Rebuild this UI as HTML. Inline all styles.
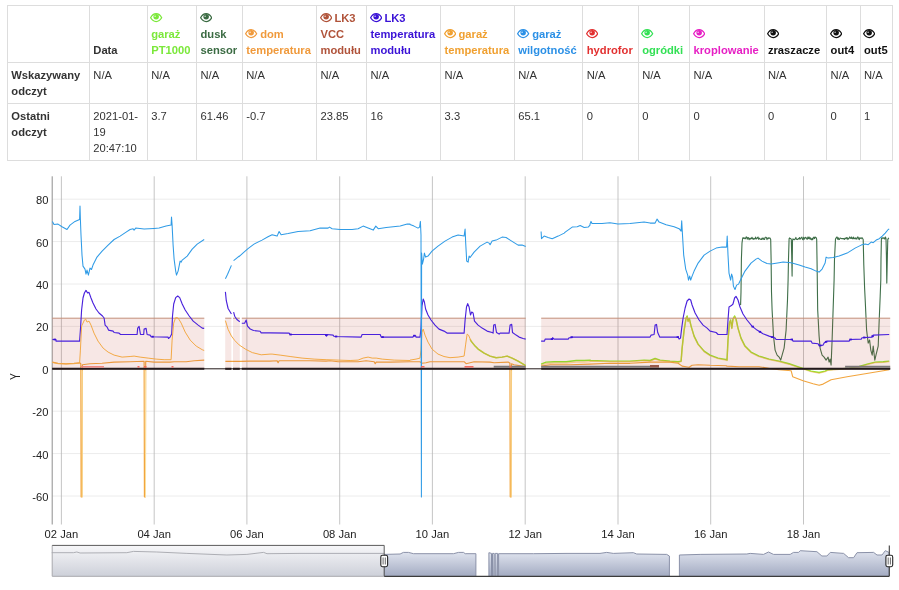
<!DOCTYPE html>
<html lang="pl"><head><meta charset="utf-8"><title>Wykres</title>
<style>
html,body{margin:0;padding:0;background:#fff;}
body{width:899px;height:590px;position:relative;overflow:hidden;font-family:"Liberation Sans",Arial,sans-serif;font-size:11.2px;line-height:16px;color:#333;}
table{position:absolute;left:7px;top:5px;border-collapse:collapse;table-layout:fixed;width:886px;border:1px solid #ddd;}
th,td{border:1px solid #ddd;padding:4px 4px 4px 3.3px;text-align:left;vertical-align:top;font-weight:normal;overflow:hidden;white-space:nowrap;}
thead th{vertical-align:bottom;font-weight:bold;}
tbody th{font-weight:bold;}
.eye{display:inline-block;vertical-align:-0.5px;margin-left:-0.9px;margin-right:-0.6px;}
#chart{position:absolute;left:0;top:0;}
#chart text{font-family:"Liberation Sans",Arial,sans-serif;fill:#222;}
</style></head><body>
<table><colgroup><col style="width:82.0px"><col style="width:57.9px"><col style="width:49.3px"><col style="width:45.8px"><col style="width:74.2px"><col style="width:50.0px"><col style="width:74.1px"><col style="width:73.7px"><col style="width:68.5px"><col style="width:55.4px"><col style="width:51.4px"><col style="width:74.4px"><col style="width:62.7px"><col style="width:33.4px"><col style="width:32.3px"></colgroup><thead><tr><th></th><th>Data</th><th style="color:#7be83a"><svg class="eye" viewBox="0 0 12 9" width="12.3" height="9.2"><path d="M0.6 4.7 C2.2 1.6 4.2 0.7 6 0.7 C7.8 0.7 9.8 1.6 11.4 4.7 C9.8 7.4 7.8 8.4 6 8.4 C4.2 8.4 2.2 7.4 0.6 4.7 Z" fill="none" stroke="currentColor" stroke-width="1.25"/><circle cx="6" cy="3.7" r="2.7" fill="currentColor"/><circle cx="5" cy="3.2" r="0.8" fill="#fff" fill-opacity="0.75"/></svg><br>garaż<br>PT1000</th><th style="color:#3b6b43"><svg class="eye" viewBox="0 0 12 9" width="12.3" height="9.2"><path d="M0.6 4.7 C2.2 1.6 4.2 0.7 6 0.7 C7.8 0.7 9.8 1.6 11.4 4.7 C9.8 7.4 7.8 8.4 6 8.4 C4.2 8.4 2.2 7.4 0.6 4.7 Z" fill="none" stroke="currentColor" stroke-width="1.25"/><circle cx="6" cy="3.7" r="2.7" fill="currentColor"/><circle cx="5" cy="3.2" r="0.8" fill="#fff" fill-opacity="0.75"/></svg><br>dusk<br>sensor</th><th style="color:#f09a3c"><svg class="eye" viewBox="0 0 12 9" width="12.3" height="9.2"><path d="M0.6 4.7 C2.2 1.6 4.2 0.7 6 0.7 C7.8 0.7 9.8 1.6 11.4 4.7 C9.8 7.4 7.8 8.4 6 8.4 C4.2 8.4 2.2 7.4 0.6 4.7 Z" fill="none" stroke="currentColor" stroke-width="1.25"/><circle cx="6" cy="3.7" r="2.7" fill="currentColor"/><circle cx="5" cy="3.2" r="0.8" fill="#fff" fill-opacity="0.75"/></svg> dom<br>temperatura</th><th style="color:#b0533a"><svg class="eye" viewBox="0 0 12 9" width="12.3" height="9.2"><path d="M0.6 4.7 C2.2 1.6 4.2 0.7 6 0.7 C7.8 0.7 9.8 1.6 11.4 4.7 C9.8 7.4 7.8 8.4 6 8.4 C4.2 8.4 2.2 7.4 0.6 4.7 Z" fill="none" stroke="currentColor" stroke-width="1.25"/><circle cx="6" cy="3.7" r="2.7" fill="currentColor"/><circle cx="5" cy="3.2" r="0.8" fill="#fff" fill-opacity="0.75"/></svg> LK3<br>VCC<br>modułu</th><th style="color:#3a12d6"><svg class="eye" viewBox="0 0 12 9" width="12.3" height="9.2"><path d="M0.6 4.7 C2.2 1.6 4.2 0.7 6 0.7 C7.8 0.7 9.8 1.6 11.4 4.7 C9.8 7.4 7.8 8.4 6 8.4 C4.2 8.4 2.2 7.4 0.6 4.7 Z" fill="none" stroke="currentColor" stroke-width="1.25"/><circle cx="6" cy="3.7" r="2.7" fill="currentColor"/><circle cx="5" cy="3.2" r="0.8" fill="#fff" fill-opacity="0.75"/></svg> LK3<br>temperatura<br>modułu</th><th style="color:#f0a030"><svg class="eye" viewBox="0 0 12 9" width="12.3" height="9.2"><path d="M0.6 4.7 C2.2 1.6 4.2 0.7 6 0.7 C7.8 0.7 9.8 1.6 11.4 4.7 C9.8 7.4 7.8 8.4 6 8.4 C4.2 8.4 2.2 7.4 0.6 4.7 Z" fill="none" stroke="currentColor" stroke-width="1.25"/><circle cx="6" cy="3.7" r="2.7" fill="currentColor"/><circle cx="5" cy="3.2" r="0.8" fill="#fff" fill-opacity="0.75"/></svg> garaż<br>temperatura</th><th style="color:#2b90e6"><svg class="eye" viewBox="0 0 12 9" width="12.3" height="9.2"><path d="M0.6 4.7 C2.2 1.6 4.2 0.7 6 0.7 C7.8 0.7 9.8 1.6 11.4 4.7 C9.8 7.4 7.8 8.4 6 8.4 C4.2 8.4 2.2 7.4 0.6 4.7 Z" fill="none" stroke="currentColor" stroke-width="1.25"/><circle cx="6" cy="3.7" r="2.7" fill="currentColor"/><circle cx="5" cy="3.2" r="0.8" fill="#fff" fill-opacity="0.75"/></svg> garaż<br>wilgotność</th><th style="color:#e23030"><svg class="eye" viewBox="0 0 12 9" width="12.3" height="9.2"><path d="M0.6 4.7 C2.2 1.6 4.2 0.7 6 0.7 C7.8 0.7 9.8 1.6 11.4 4.7 C9.8 7.4 7.8 8.4 6 8.4 C4.2 8.4 2.2 7.4 0.6 4.7 Z" fill="none" stroke="currentColor" stroke-width="1.25"/><circle cx="6" cy="3.7" r="2.7" fill="currentColor"/><circle cx="5" cy="3.2" r="0.8" fill="#fff" fill-opacity="0.75"/></svg><br>hydrofor</th><th style="color:#33e055"><svg class="eye" viewBox="0 0 12 9" width="12.3" height="9.2"><path d="M0.6 4.7 C2.2 1.6 4.2 0.7 6 0.7 C7.8 0.7 9.8 1.6 11.4 4.7 C9.8 7.4 7.8 8.4 6 8.4 C4.2 8.4 2.2 7.4 0.6 4.7 Z" fill="none" stroke="currentColor" stroke-width="1.25"/><circle cx="6" cy="3.7" r="2.7" fill="currentColor"/><circle cx="5" cy="3.2" r="0.8" fill="#fff" fill-opacity="0.75"/></svg><br>ogródki</th><th style="color:#e61fc4"><svg class="eye" viewBox="0 0 12 9" width="12.3" height="9.2"><path d="M0.6 4.7 C2.2 1.6 4.2 0.7 6 0.7 C7.8 0.7 9.8 1.6 11.4 4.7 C9.8 7.4 7.8 8.4 6 8.4 C4.2 8.4 2.2 7.4 0.6 4.7 Z" fill="none" stroke="currentColor" stroke-width="1.25"/><circle cx="6" cy="3.7" r="2.7" fill="currentColor"/><circle cx="5" cy="3.2" r="0.8" fill="#fff" fill-opacity="0.75"/></svg><br>kroplowanie</th><th style="color:#111"><svg class="eye" viewBox="0 0 12 9" width="12.3" height="9.2"><path d="M0.6 4.7 C2.2 1.6 4.2 0.7 6 0.7 C7.8 0.7 9.8 1.6 11.4 4.7 C9.8 7.4 7.8 8.4 6 8.4 C4.2 8.4 2.2 7.4 0.6 4.7 Z" fill="none" stroke="currentColor" stroke-width="1.25"/><circle cx="6" cy="3.7" r="2.7" fill="currentColor"/><circle cx="5" cy="3.2" r="0.8" fill="#fff" fill-opacity="0.75"/></svg><br>zraszacze</th><th style="color:#111"><svg class="eye" viewBox="0 0 12 9" width="12.3" height="9.2"><path d="M0.6 4.7 C2.2 1.6 4.2 0.7 6 0.7 C7.8 0.7 9.8 1.6 11.4 4.7 C9.8 7.4 7.8 8.4 6 8.4 C4.2 8.4 2.2 7.4 0.6 4.7 Z" fill="none" stroke="currentColor" stroke-width="1.25"/><circle cx="6" cy="3.7" r="2.7" fill="currentColor"/><circle cx="5" cy="3.2" r="0.8" fill="#fff" fill-opacity="0.75"/></svg><br>out4</th><th style="color:#111"><svg class="eye" viewBox="0 0 12 9" width="12.3" height="9.2"><path d="M0.6 4.7 C2.2 1.6 4.2 0.7 6 0.7 C7.8 0.7 9.8 1.6 11.4 4.7 C9.8 7.4 7.8 8.4 6 8.4 C4.2 8.4 2.2 7.4 0.6 4.7 Z" fill="none" stroke="currentColor" stroke-width="1.25"/><circle cx="6" cy="3.7" r="2.7" fill="currentColor"/><circle cx="5" cy="3.2" r="0.8" fill="#fff" fill-opacity="0.75"/></svg><br>out5</th></tr></thead><tbody><tr class="r2"><th>Wskazywany<br>odczyt</th><td>N/A</td><td>N/A</td><td>N/A</td><td>N/A</td><td>N/A</td><td>N/A</td><td>N/A</td><td>N/A</td><td>N/A</td><td>N/A</td><td>N/A</td><td>N/A</td><td>N/A</td><td>N/A</td></tr><tr class="r3"><th>Ostatni<br>odczyt</th><td>2021-01-<br>19<br>20:47:10</td><td>3.7</td><td>61.46</td><td>-0.7</td><td>23.85</td><td>16</td><td>3.3</td><td>65.1</td><td>0</td><td>0</td><td>0</td><td>0</td><td>0</td><td>1</td></tr></tbody></table>
<svg id="chart" width="899" height="590" viewBox="0 0 899 590">
<defs><linearGradient id="gsel" x1="0" y1="0" x2="0" y2="1"><stop offset="0" stop-color="#dfe3ee"/><stop offset="1" stop-color="#a3abc2"/></linearGradient><linearGradient id="gbg" x1="0" y1="0" x2="0" y2="1"><stop offset="0" stop-color="#f7f7f9"/><stop offset="1" stop-color="#cdd0d9"/></linearGradient></defs>
<line x1="52.2" x2="890.2" y1="199.2" y2="199.2" stroke="#ececec" stroke-width="1"/>
<line x1="52.2" x2="890.2" y1="241.6" y2="241.6" stroke="#ececec" stroke-width="1"/>
<line x1="52.2" x2="890.2" y1="284.0" y2="284.0" stroke="#ececec" stroke-width="1"/>
<line x1="52.2" x2="890.2" y1="326.4" y2="326.4" stroke="#ececec" stroke-width="1"/>
<line x1="52.2" x2="890.2" y1="368.8" y2="368.8" stroke="#ececec" stroke-width="1"/>
<line x1="52.2" x2="890.2" y1="411.2" y2="411.2" stroke="#ececec" stroke-width="1"/>
<line x1="52.2" x2="890.2" y1="453.6" y2="453.6" stroke="#ececec" stroke-width="1"/>
<line x1="52.2" x2="890.2" y1="496.0" y2="496.0" stroke="#ececec" stroke-width="1"/>
<line x1="61.4" x2="61.4" y1="176.3" y2="524.5" stroke="#b6b6b6" stroke-width="0.8"/>
<line x1="154.2" x2="154.2" y1="176.3" y2="524.5" stroke="#b6b6b6" stroke-width="0.8"/>
<line x1="246.9" x2="246.9" y1="176.3" y2="524.5" stroke="#b6b6b6" stroke-width="0.8"/>
<line x1="339.7" x2="339.7" y1="176.3" y2="524.5" stroke="#b6b6b6" stroke-width="0.8"/>
<line x1="432.4" x2="432.4" y1="176.3" y2="524.5" stroke="#b6b6b6" stroke-width="0.8"/>
<line x1="525.2" x2="525.2" y1="176.3" y2="524.5" stroke="#b6b6b6" stroke-width="0.8"/>
<line x1="618.0" x2="618.0" y1="176.3" y2="524.5" stroke="#b6b6b6" stroke-width="0.8"/>
<line x1="710.7" x2="710.7" y1="176.3" y2="524.5" stroke="#b6b6b6" stroke-width="0.8"/>
<line x1="803.5" x2="803.5" y1="176.3" y2="524.5" stroke="#b6b6b6" stroke-width="0.8"/>
<line x1="52.2" x2="52.2" y1="176.3" y2="524.5" stroke="#8f8f8f" stroke-width="1"/>
<path d="M470.1 339.1 L471.1 341.1 L475.1 346.1 L478.1 349.1 L484.1 353.1 L490.1 356.1 L496.1 357.7 L502.1 357.1 L507.1 356.1 L512.1 358.1 L518.1 361.1 L523.1 364.1 L525.7 365.7 M541.1 364.1 L546.1 362.1 L554.2 361.7 L566.2 361.7 L576.2 360.5 L584.2 360.5 L590.0 360.1 L590.0 360.5 L610.0 361.1 L630.0 361.1 L644.1 360.1 L650.1 360.5 L655.1 358.5 L660.1 360.1 L670.1 361.1 L678.1 361.7 L681.1 361.1 L682.1 348.1 L684.1 330.1 L686.1 318.0 L687.1 316.0 L688.1 321.1 L689.3 318.4 L691.1 326.1 L694.1 336.1 L698.1 344.1 L704.1 351.1 L710.1 355.1 L718.1 358.1 L727.1 359.7 L727.0 360.1 L728.0 340.1 L729.4 323.1 L730.6 320.0 L731.8 328.1 L733.0 319.0 L734.6 316.0 L736.0 319.0 L738.0 328.1 L741.0 338.1 L745.0 346.1 L751.0 352.1 L759.0 356.1 L769.1 359.1 L779.1 361.1 L789.1 363.7 L799.1 367.1 L805.1 369.1 L811.1 371.1 L819.1 372.5 L825.1 371.1 L828.1 369.7 L839.1 368.9 L849.1 368.1 L859.2 366.5 L867.2 364.1 L875.2 362.1 L883.2 361.7 L889.2 361.1" fill="none" stroke="#8cec2c" stroke-width="1.45" stroke-linejoin="round" />
<path d="M740.6 305.0 L741.0 292.0 L741.4 259.1 L742.0 243.1 L742.6 238.7 L743.0 237.6 L743.6 238.4 L744.2 237.9 L744.8 238.6 L745.4 238.7 L746.0 237.1 L746.6 236.9 L747.2 239.2 L747.8 237.6 L748.4 237.6 L749.0 239.7 L749.6 238.2 L750.2 239.2 L750.8 238.2 L751.4 238.7 L752.0 237.3 L752.6 238.7 L753.2 239.3 L753.8 238.4 L754.4 239.0 L755.0 238.8 L755.6 237.1 L756.2 239.0 L756.8 238.6 L757.4 237.7 L758.0 237.0 L758.6 239.3 L759.2 238.2 L759.8 238.9 L760.4 239.4 L761.0 238.9 L761.6 239.5 L762.2 238.0 L762.8 239.1 L763.4 238.1 L764.0 239.5 L764.6 239.4 L765.2 237.2 L765.8 237.3 L766.4 237.5 L767.0 239.6 L767.6 238.1 L768.2 238.7 L768.8 237.7 L769.4 238.3 L770.0 238.0 L770.7 239.5 L771.1 259.1 L771.5 292.0 L772.1 310.0 L773.5 336.1 L775.1 350.1 L777.1 355.1 L779.1 357.1 L780.7 360.1 L782.1 355.1 L784.1 348.1 L786.1 330.1 L787.5 300.0 L788.1 280.0 L788.5 259.1 L789.1 238.7 L789.5 237.9 L790.1 238.5 L790.7 238.5 L791.3 239.4 L791.7 255.1 L792.1 276.1 L792.5 241.1 L792.9 238.8 L793.5 239.5 L794.1 239.3 L794.7 239.7 L795.3 238.8 L795.9 237.4 L796.5 239.3 L797.1 239.6 L797.7 239.4 L798.3 238.5 L798.9 238.9 L799.5 237.5 L800.1 239.2 L800.7 238.5 L801.3 237.7 L801.9 237.1 L802.5 239.3 L803.1 239.7 L803.7 237.2 L804.3 239.1 L804.9 238.1 L805.5 237.3 L806.1 237.7 L806.7 239.1 L807.3 239.3 L807.9 237.0 L808.5 238.6 L809.1 237.0 L809.7 238.9 L810.3 237.8 L810.9 239.4 L811.5 239.7 L812.1 238.3 L812.7 239.7 L813.3 237.8 L813.9 237.1 L814.5 238.6 L815.1 237.0 L815.7 237.4 L816.3 238.0 L816.7 239.5 L817.1 265.1 L817.5 296.0 L817.7 310.0 L819.1 336.1 L820.1 348.1 L822.1 355.1 L824.1 357.1 L826.1 360.1 L828.1 357.1 L829.1 362.1 L830.1 359.1 L831.1 365.1 L832.1 340.1 L833.1 310.0 L834.1 280.0 L834.5 259.1 L835.5 238.7 L835.9 238.6 L836.5 237.3 L837.1 237.0 L837.7 239.3 L838.3 237.8 L838.9 239.6 L839.5 239.4 L840.1 238.0 L840.7 238.2 L841.3 238.4 L841.9 238.7 L842.5 238.6 L843.1 238.5 L843.7 238.6 L844.3 239.5 L844.9 238.3 L845.5 238.1 L846.1 238.9 L846.7 237.6 L847.3 237.7 L847.9 239.6 L848.5 238.4 L849.1 238.4 L849.7 236.9 L850.3 238.1 L850.9 238.5 L851.5 237.0 L852.1 238.6 L852.7 238.7 L853.3 237.1 L853.9 238.7 L854.5 238.2 L855.1 238.8 L855.7 237.9 L856.3 238.9 L856.9 239.0 L857.5 237.0 L858.1 237.1 L858.7 238.8 L859.3 239.6 L859.9 237.6 L860.5 238.2 L861.1 238.6 L861.7 237.8 L862.3 237.9 L863.2 239.5 L863.8 265.1 L864.6 288.0 L865.2 300.0 L866.6 330.1 L868.2 343.1 L869.6 340.1 L870.8 350.1 L872.2 355.1 L873.2 346.1 L874.8 360.1 L876.2 354.1 L878.2 346.1 L879.2 320.0 L880.2 296.0 L880.8 280.0 L881.0 259.1 L881.4 238.7 L881.8 237.8 L882.4 237.9 L883.0 238.6 L883.6 237.7 L884.2 238.0 L884.8 239.1 L885.4 237.0 L886.0 238.5 L886.4 255.1 L886.8 283.1 L887.4 255.1 L887.8 239.1 L888.2 239.0 L888.8 237.8" fill="none" stroke="#3f6f49" stroke-width="1.1" stroke-linejoin="round" />
<path d="M52.4 362.1 L58.0 363.3 L66.0 363.7 L74.0 363.3 L79.6 362.7 L80.8 363.7 L81.1 496.8 L82.1 496.8 L82.4 364.7 L90.0 363.7 L102.1 363.3 L114.1 362.1 L130.1 361.7 L144.1 361.3 L144.1 361.3 L144.4 496.8 L145.4 496.8 L145.7 361.3 L154.1 362.1 L170.1 362.1 L174.1 361.7 L186.2 361.7 L194.2 360.7 L204.2 360.1 M225.4 361.3 L230.0 361.3 L240.0 361.3 L250.0 361.1 L270.0 361.1 L277.1 360.7 L278.1 362.7 L279.1 360.7 L290.1 360.7 L310.1 360.7 L326.1 361.1 L330.1 360.7 L338.1 361.7 L358.1 361.7 L366.1 360.7 L374.2 361.7 L375.2 363.7 L376.2 362.1 L390.2 362.1 L410.0 361.7 L410.0 361.7 L420.0 361.7 L422.0 363.3 L426.0 362.7 L430.0 361.7 L450.0 361.7 L464.1 361.7 L466.1 363.7 L470.1 362.7 L474.1 361.7 L490.1 362.1 L494.1 362.7 L508.1 362.1 L510.1 363.3 L509.9 363.3 L510.2 496.8 L511.2 496.8 L511.5 363.7 L514.1 364.7 L522.1 366.1 L525.7 366.7 M541.1 366.1 L550.2 364.7 L570.2 364.7 L590.0 364.1 L590.0 364.1 L610.0 363.3 L630.0 363.3 L650.1 362.1 L670.1 362.1 L678.1 363.3 L682.1 366.1 L686.1 366.7 L689.1 367.3 L692.1 365.3 L698.1 364.7 L710.1 365.3 L726.1 365.7 L727.0 366.1 L739.0 366.7 L759.0 366.7 L771.1 368.7 L779.1 369.7 L791.1 370.7 L792.7 376.7 L803.1 380.7 L813.1 383.7 L819.1 385.3 L823.1 384.1 L831.1 379.7 L847.1 376.7 L859.2 374.7 L871.2 372.7 L883.2 370.7 L889.2 369.7" fill="none" stroke="#f2a53e" stroke-width="1.15" stroke-linejoin="round" />
<rect x="52.2" y="318.2" width="152.1" height="50.6" fill="#c04a3a" fill-opacity="0.135"/>
<line x1="52.2" x2="204.3" y1="318.2" y2="318.2" stroke="#c38e79" stroke-width="1"/>
<rect x="225.2" y="318.2" width="6.2" height="50.6" fill="#c04a3a" fill-opacity="0.135"/>
<line x1="225.2" x2="231.4" y1="318.2" y2="318.2" stroke="#c38e79" stroke-width="1"/>
<rect x="233" y="318.2" width="6.8" height="50.6" fill="#c04a3a" fill-opacity="0.135"/>
<line x1="233" x2="239.8" y1="318.2" y2="318.2" stroke="#c38e79" stroke-width="1"/>
<rect x="241.8" y="318.2" width="283.9" height="50.6" fill="#c04a3a" fill-opacity="0.135"/>
<line x1="241.8" x2="525.7" y1="318.2" y2="318.2" stroke="#c38e79" stroke-width="1"/>
<rect x="541.2" y="318.2" width="349.0" height="50.6" fill="#c04a3a" fill-opacity="0.135"/>
<line x1="541.2" x2="890.2" y1="318.2" y2="318.2" stroke="#c38e79" stroke-width="1"/>
<path d="M52.4 339.5 L56.0 339.5 L56.0 341.1 L79.6 341.1 L80.4 330.1 L81.6 310.0 L83.0 298.0 L84.4 293.0 L86.0 290.4 L87.6 293.0 L89.0 292.4 L91.0 298.0 L93.0 303.0 L96.0 309.0 L99.0 313.0 L102.5 316.0 L104.1 318.0 L105.1 325.1 L107.1 327.1 L108.5 330.1 L113.1 331.1 L114.1 332.5 L119.1 333.1 L120.5 334.5 L137.1 334.5 L137.7 328.1 L139.1 326.4 L140.5 334.5 L143.7 334.5 L144.1 329.1 L146.1 328.4 L147.1 334.5 L150.1 335.1 L151.1 336.7 L168.1 337.1 L168.5 338.5 L170.1 337.1 L171.7 334.1 L172.5 316.0 L173.7 304.0 L175.7 297.6 L177.7 296.0 L179.7 297.6 L182.2 304.0 L185.2 310.0 L189.2 316.0 L193.2 321.1 L198.2 325.1 L202.2 328.1 L204.2 328.4 M225.4 291.9 L226.3 300.7 L228.1 308.5 L231.4 314.0 M233.6 312.2 L234.7 316.2 L236.9 319.5 L239.8 321.7 M241.8 323.2 L244.6 323.2 L246.2 320.1 L247.5 326.1 L250.2 329.0 L253.5 330.5 L260.1 331.2 L261.2 332.9 L270.0 332.9 L289.1 333.1 L290.1 334.5 L326.1 334.5 L326.5 336.1 L327.1 334.5 L333.1 335.1 L334.1 336.5 L361.1 337.1 L362.1 334.5 L380.2 334.5 L381.2 337.1 L410.0 337.1 L410.0 337.1 L413.0 337.1 L413.6 335.7 L415.6 335.7 L416.0 337.1 L420.0 337.1 L421.0 328.1 L422.0 306.0 L423.2 299.0 L424.4 302.0 L425.6 309.0 L428.0 315.0 L431.0 320.0 L435.0 325.1 L439.0 329.1 L444.0 331.1 L447.0 333.1 L464.1 333.1 L465.1 320.0 L466.5 307.0 L467.7 303.6 L469.1 307.0 L470.5 315.0 L471.7 312.0 L473.1 313.0 L474.5 321.1 L478.1 325.1 L482.1 328.1 L487.1 331.1 L492.1 332.5 L493.1 333.1 L493.7 325.1 L495.1 324.4 L496.5 332.5 L499.1 334.1 L500.1 333.1 L509.1 333.1 L510.1 325.1 L511.7 324.4 L512.5 332.5 L516.1 335.1 L519.1 337.1 L523.1 338.5 L525.7 339.1 M541.1 341.1 L544.5 341.1 L545.1 339.1 L552.2 339.1 L552.6 337.7 L554.2 339.1 L568.2 339.1 L569.2 337.7 L571.2 337.7 L571.8 337.1 L590.0 337.1 L590.0 337.1 L650.1 337.1 L651.1 335.1 L654.1 334.5 L655.1 325.1 L656.5 324.4 L657.7 332.5 L659.7 337.1 L678.1 337.1 L679.1 339.1 L680.5 338.1 L681.7 328.1 L683.1 318.0 L685.1 308.0 L687.1 301.0 L689.1 299.0 L690.7 300.0 L692.1 305.0 L695.1 313.0 L699.1 320.0 L703.1 325.1 L707.1 328.1 L710.1 331.1 L716.1 332.5 L718.1 334.5 L727.1 334.5 L727.0 334.5 L728.0 320.0 L729.0 307.0 L731.4 305.6 L733.0 304.0 L734.6 298.0 L736.0 296.4 L738.0 300.0 L740.0 307.0 L743.0 314.0 L747.0 320.0 L752.0 326.1 L757.0 330.1 L763.0 333.7 L769.1 336.1 L775.1 338.1 L776.1 339.5 L792.1 339.5 L793.1 341.1 L811.1 341.1 L812.1 343.1 L818.1 343.7 L819.1 345.7 L823.1 345.1 L824.1 343.1 L827.1 341.1 L849.1 341.1 L850.1 339.5 L861.2 339.1 L862.2 337.7 L872.2 337.1 L873.2 335.1 L889.2 334.5" fill="none" stroke="#4a22dc" stroke-width="1.15" stroke-linejoin="round" />
<path d="M52.4 362.5 L58.0 363.7 L66.0 364.1 L74.0 363.7 L79.6 363.1 L80.4 350.1 L81.6 326.1 L83.0 323.1 L84.4 320.0 L85.6 319.0 L87.0 322.1 L89.0 321.1 L91.0 325.1 L94.0 333.1 L98.0 341.1 L103.1 348.1 L108.1 352.1 L114.1 355.1 L122.1 357.1 L130.1 356.5 L134.1 356.1 L140.1 357.1 L148.1 358.1 L156.1 359.1 L164.1 359.7 L171.1 359.7 L172.1 340.1 L173.7 323.1 L175.7 317.6 L178.1 318.0 L181.2 323.1 L185.2 332.1 L190.2 340.1 L196.2 346.1 L202.2 349.7 L204.2 350.5 M225.4 320.6 L228.1 329.4 L231.4 336.0 L234.7 340.4 L239.1 344.9 L245.7 349.3 L252.3 352.6 L261.2 354.8 L270.0 354.1 L272.1 354.1 L280.1 355.1 L290.1 356.5 L302.1 358.1 L314.1 359.1 L326.1 359.7 L338.1 360.1 L350.1 360.5 L358.1 360.1 L363.1 358.1 L368.1 357.1 L372.2 358.1 L376.2 358.1 L382.2 359.1 L394.2 360.1 L410.0 360.5 L410.0 360.1 L416.0 359.1 L420.0 358.1 L421.0 350.1 L422.0 332.1 L423.2 329.1 L425.0 335.1 L428.0 342.1 L432.0 349.1 L438.0 354.1 L444.0 356.5 L450.0 357.7 L458.1 357.1 L464.1 356.1 L465.7 344.1 L467.1 334.1 L468.5 335.1 L471.1 341.1" fill="none" stroke="#f3a945" stroke-width="1.0" stroke-linejoin="round" />
<path d="M471.1 341.1 L475.1 346.1 L478.1 349.1 L484.1 353.1 L490.1 356.1 L496.1 357.7 L502.1 357.1 L507.1 356.1 L512.1 358.1 L518.1 361.1 L523.1 364.1 L525.7 365.7 M541.1 365.1 L546.1 363.7 L554.2 363.1 L566.2 363.1 L576.2 362.1 L584.2 362.1 L590.0 361.7 L590.0 361.1 L610.0 361.7 L630.0 361.7 L644.1 360.7 L650.1 361.1 L655.1 359.1 L660.1 360.7 L670.1 361.7 L678.1 362.3 L681.1 361.7 L682.1 348.7 L684.1 330.7 L686.1 318.6 L687.1 316.6 L688.1 321.7 L689.3 319.0 L691.1 326.7 L694.1 336.7 L698.1 344.7 L704.1 351.7 L710.1 355.7 L718.1 358.7 L727.1 360.3 L727.0 360.7 L728.0 340.7 L729.4 323.7 L730.6 320.6 L731.8 328.7 L733.0 319.6 L734.6 316.6 L736.0 319.6 L738.0 328.7 L741.0 338.7 L745.0 346.7 L751.0 352.7 L759.0 356.7 L769.1 359.7 L779.1 361.7 L789.1 364.3 L799.1 367.7 L805.1 369.7 L811.1 371.7 L819.1 373.1 L825.1 371.7 L828.1 370.3 L839.1 369.5 L849.1 368.7 L859.2 367.1 L867.2 364.7 L875.2 362.7 L883.2 362.3 L889.2 361.7" fill="none" stroke="#f2a53e" stroke-width="1.2" stroke-linejoin="round" stroke-opacity="0.5"/>
<path d="M52.4 221.4 L54.0 224.4 L58.0 224.1 L62.0 226.7 L67.0 229.5 L70.0 225.1 L75.0 221.4 L79.6 219.4 L80.0 206.0 L80.4 219.4 L81.0 235.1 L82.0 255.1 L83.0 266.1 L85.0 269.1 L86.0 274.1 L87.0 270.1 L88.4 275.1 L90.0 268.1 L91.5 269.5 L93.0 265.1 L97.0 257.1 L102.1 251.1 L108.1 245.1 L114.1 239.5 L120.1 236.1 L126.1 232.1 L130.1 229.5 L133.1 228.7 L134.1 230.1 L135.7 228.1 L144.1 229.1 L154.1 228.5 L159.1 228.1 L166.1 226.1 L171.1 225.1 L171.5 217.1 L172.1 225.1 L173.1 245.1 L174.1 259.1 L175.7 271.1 L176.5 275.1 L178.1 271.1 L180.1 261.1 L181.2 262.1 L182.2 260.1 L187.2 256.1 L192.2 249.1 L197.2 244.1 L204.2 239.5 M225.4 278.7 L227.6 274.3 L231.4 265.4 M233.6 260.6 L235.8 258.8 L239.1 256.2 L239.0 256.7 L244.0 252.1 L248.0 248.7 L254.0 244.1 L262.0 240.1 L268.0 236.7 L272.1 234.7 L277.1 236.1 L279.1 231.5 L281.1 234.7 L288.1 233.5 L298.1 231.5 L310.1 230.7 L320.1 228.1 L328.1 228.1 L329.5 227.1 L332.1 228.7 L340.1 229.5 L352.1 229.5 L358.1 228.7 L363.1 226.1 L368.1 228.1 L373.2 230.1 L375.8 226.1 L378.2 228.7 L386.2 227.5 L400.2 226.1 L407.2 224.1 L410.0 224.1 L410.0 224.4 L414.0 226.1 L418.0 228.1 L419.6 227.1 L420.4 221.4 L421.0 235.1 L421.4 497.0 L421.6 253.1 L422.4 264.1 L423.6 259.1 L424.4 253.1 L425.6 257.1 L428.0 256.1 L432.0 251.1 L438.0 246.1 L445.0 241.1 L452.1 237.1 L458.1 235.1 L464.1 236.1 L465.1 229.1 L465.7 243.1 L466.7 261.1 L468.1 262.1 L469.1 256.1 L470.1 257.5 L474.1 252.1 L480.1 246.1 L487.1 242.1 L489.1 243.1 L490.1 244.7 L492.1 241.1 L496.1 240.1 L502.1 237.1 L506.1 237.5 L510.1 240.1 L518.1 245.1 L522.1 245.1 L525.7 246.5 M541.1 231.5 L541.5 238.7 L544.1 236.1 L548.1 237.5 L552.2 238.7 L558.2 236.1 L564.2 233.1 L565.2 232.1 L572.2 227.1 L577.2 226.7 L580.2 225.5 L584.2 227.5 L588.2 227.1 L590.0 225.1 L590.0 224.1 L591.0 221.4 L592.0 223.4 L602.0 223.4 L610.0 222.7 L618.0 224.1 L630.0 223.4 L644.1 222.1 L650.1 223.1 L655.1 223.1 L657.1 219.1 L659.1 222.1 L666.1 224.7 L674.1 226.7 L679.1 228.7 L681.1 231.1 L681.7 220.7 L682.5 235.1 L683.7 255.1 L685.7 269.1 L687.7 275.1 L688.5 280.1 L689.7 276.1 L690.7 280.1 L692.1 276.1 L694.1 271.1 L698.1 263.1 L704.1 255.1 L710.1 251.1 L716.1 248.1 L722.1 247.1 L726.5 247.1 L726.6 246.7 L727.2 236.1 L728.0 255.1 L729.0 273.1 L730.6 280.1 L731.6 274.1 L732.6 277.1 L733.4 286.1 L735.0 289.5 L736.6 285.1 L738.6 284.1 L741.0 279.1 L745.0 271.1 L751.0 263.1 L756.0 259.1 L758.0 258.1 L762.0 261.1 L767.0 263.5 L771.1 264.1 L779.1 262.7 L783.1 262.1 L791.1 262.7 L799.1 265.1 L805.1 267.1 L811.1 268.7 L816.1 271.1 L819.1 272.1 L822.1 269.1 L825.1 263.1 L826.1 257.1 L828.1 258.1 L833.1 257.5 L839.1 256.1 L847.1 253.1 L855.1 248.1 L861.2 245.1 L865.2 244.1 L868.2 244.7 L871.2 242.1 L873.2 242.7 L876.2 240.1 L879.2 238.7 L882.2 236.1 L885.2 233.1 L888.2 229.5 L889.2 229.1" fill="none" stroke="#2f9be6" stroke-width="1.05" stroke-linejoin="round" />
<rect x="53.5" y="338.6" width="2.4" height="1.8" fill="#3a12d6"/>
<rect x="151.4" y="335.8" width="2.4" height="1.8" fill="#3a12d6"/>
<rect x="289.4" y="333.6" width="2.4" height="1.8" fill="#3a12d6"/>
<rect x="325.1" y="334.3" width="2.4" height="1.8" fill="#3a12d6"/>
<rect x="334.9" y="335.6" width="2.4" height="1.8" fill="#3a12d6"/>
<rect x="381.4" y="336.2" width="2.4" height="1.8" fill="#3a12d6"/>
<rect x="413.2" y="334.8" width="2.4" height="1.8" fill="#3a12d6"/>
<rect x="550.8" y="338.2" width="2.4" height="1.8" fill="#3a12d6"/>
<rect x="570.4" y="336.3" width="2.4" height="1.8" fill="#3a12d6"/>
<rect x="676.6" y="336.2" width="2.4" height="1.8" fill="#3a12d6"/>
<rect x="751.5" y="325.7" width="2.4" height="1.8" fill="#3a12d6"/>
<rect x="758.8" y="330.9" width="2.4" height="1.8" fill="#3a12d6"/>
<rect x="771.1" y="336.2" width="2.4" height="1.8" fill="#3a12d6"/>
<rect x="790.6" y="338.6" width="2.4" height="1.8" fill="#3a12d6"/>
<rect x="819.0" y="344.6" width="2.4" height="1.8" fill="#3a12d6"/>
<rect x="824.9" y="340.9" width="2.4" height="1.8" fill="#3a12d6"/>
<rect x="849.4" y="338.6" width="2.4" height="1.8" fill="#3a12d6"/>
<rect x="863.1" y="336.6" width="2.4" height="1.8" fill="#3a12d6"/>
<rect x="871.4" y="335.3" width="2.4" height="1.8" fill="#3a12d6"/>
<line x1="82.2" x2="82.2" y1="370.3" y2="497.2" stroke="#fadf9e" stroke-width="1"/>
<line x1="145.5" x2="145.5" y1="370.3" y2="497.2" stroke="#fadf9e" stroke-width="1"/>
<line x1="511.2" x2="511.2" y1="370.3" y2="497.2" stroke="#fadf9e" stroke-width="1"/>
<line x1="52.2" x2="890.2" y1="368.8" y2="368.8" stroke="#2a2020" stroke-width="1"/>
<line x1="52.2" x2="204.3" y1="368.8" y2="368.8" stroke="#241a1c" stroke-width="2.1"/>
<line x1="225.2" x2="231.4" y1="368.8" y2="368.8" stroke="#241a1c" stroke-width="2.1"/>
<line x1="233" x2="239.8" y1="368.8" y2="368.8" stroke="#241a1c" stroke-width="2.1"/>
<line x1="241.8" x2="525.7" y1="368.8" y2="368.8" stroke="#241a1c" stroke-width="2.1"/>
<line x1="541.2" x2="890.2" y1="368.8" y2="368.8" stroke="#241a1c" stroke-width="2.1"/>
<line x1="493.7" x2="525.7" y1="366.8" y2="366.8" stroke="#7d7779" stroke-width="2"/>
<line x1="541.2" x2="659" y1="366.8" y2="366.8" stroke="#7d7779" stroke-width="2"/>
<line x1="845.1" x2="890.2" y1="366.8" y2="366.8" stroke="#7d7779" stroke-width="2"/>
<line x1="650" x2="659" y1="366.2" y2="366.2" stroke="#9a5a4a" stroke-width="2.4"/>
<line x1="81" x2="104" y1="366.8" y2="366.8" stroke="#f08a84" stroke-width="1.6"/>
<line x1="137.5" x2="139.5" y1="366.8" y2="366.8" stroke="#ee6a60" stroke-width="1.6"/>
<line x1="144" x2="146.5" y1="366.8" y2="366.8" stroke="#ee6a60" stroke-width="1.6"/>
<line x1="171.5" x2="173.5" y1="366.8" y2="366.8" stroke="#ee6a60" stroke-width="1.6"/>
<line x1="421" x2="424.5" y1="366.8" y2="366.8" stroke="#ee6a60" stroke-width="1.6"/>
<line x1="464.5" x2="473.5" y1="366.8" y2="366.8" stroke="#ee6a60" stroke-width="1.6"/>
<line x1="509.5" x2="511.5" y1="366.8" y2="366.8" stroke="#ee6a60" stroke-width="1.6"/>
<text x="48.5" y="204.2" font-size="11.2" text-anchor="end">80</text>
<text x="48.5" y="246.6" font-size="11.2" text-anchor="end">60</text>
<text x="48.5" y="289.0" font-size="11.2" text-anchor="end">40</text>
<text x="48.5" y="331.4" font-size="11.2" text-anchor="end">20</text>
<text x="48.5" y="373.8" font-size="11.2" text-anchor="end">0</text>
<text x="48.5" y="416.2" font-size="11.2" text-anchor="end">-20</text>
<text x="48.5" y="458.6" font-size="11.2" text-anchor="end">-40</text>
<text x="48.5" y="501.0" font-size="11.2" text-anchor="end">-60</text>
<text x="61.4" y="538" font-size="11.2" text-anchor="middle">02 Jan</text>
<text x="154.2" y="538" font-size="11.2" text-anchor="middle">04 Jan</text>
<text x="246.9" y="538" font-size="11.2" text-anchor="middle">06 Jan</text>
<text x="339.7" y="538" font-size="11.2" text-anchor="middle">08 Jan</text>
<text x="432.4" y="538" font-size="11.2" text-anchor="middle">10 Jan</text>
<text x="525.2" y="538" font-size="11.2" text-anchor="middle">12 Jan</text>
<text x="618.0" y="538" font-size="11.2" text-anchor="middle">14 Jan</text>
<text x="710.7" y="538" font-size="11.2" text-anchor="middle">16 Jan</text>
<text x="803.5" y="538" font-size="11.2" text-anchor="middle">18 Jan</text>
<text x="0" y="0" font-size="14" text-anchor="middle" transform="translate(20.05 376.5) rotate(-90) scale(0.73 1)">Y</text>
<rect x="52.2" y="545.4" width="332.0" height="30.9" fill="url(#gbg)"/>
<path d="M51.7 552.7 L73.4 552.7 L76.8 552.0 L80.1 553.0 L126.8 552.7 L133.5 551.4 L156.8 552.0 L186.9 553.4 L226.9 555.0 L246.9 554.4 L263.6 552.4 L267.0 553.7 L300.0 553.4 L320.0 553.4 L384.4 553.4" fill="none" stroke="#adaeb4" stroke-width="1"/>
<path d="M384.4 554.4 L400.1 554.0 L403.4 552.4 L408.5 552.4 L413.5 553.7 L453.5 553.7 L458.5 552.4 L463.5 552.4 L465.2 553.7 L475.9 553.7 L475.9 576.3 L384.4 576.3 Z" fill="url(#gsel)" stroke="none"/>
<path d="M384.4 576.3 L384.4 554.4 L400.1 554.0 L403.4 552.4 L408.5 552.4 L413.5 553.7 L453.5 553.7 L458.5 552.4 L463.5 552.4 L465.2 553.7 L475.9 553.7 L475.9 576.3" fill="none" stroke="#8a91a8" stroke-width="1"/>
<path d="M488.9 552.7 L491.5 553.4 L491.5 576.3 L488.9 576.3 Z" fill="url(#gsel)" stroke="none"/>
<path d="M488.9 576.3 L488.9 552.7 L491.5 553.4 L491.5 576.3" fill="none" stroke="#8a91a8" stroke-width="1"/>
<path d="M492.5 553.4 L494.2 553.4 L494.2 576.3 L492.5 576.3 Z" fill="url(#gsel)" stroke="none"/>
<path d="M492.5 576.3 L492.5 553.4 L494.2 553.4 L494.2 576.3" fill="none" stroke="#8a91a8" stroke-width="1"/>
<path d="M495.2 553.4 L497.6 553.4 L497.6 576.3 L495.2 576.3 Z" fill="url(#gsel)" stroke="none"/>
<path d="M495.2 576.3 L495.2 553.4 L497.6 553.4 L497.6 576.3" fill="none" stroke="#8a91a8" stroke-width="1"/>
<path d="M498.6 553.7 L533.6 553.7 L567.0 553.4 L600.0 553.4 L606.7 552.4 L613.3 553.4 L633.4 552.7 L636.7 554.0 L666.7 554.4 L669.4 556.0 L669.4 576.3 L498.6 576.3 Z" fill="url(#gsel)" stroke="none"/>
<path d="M498.6 576.3 L498.6 553.7 L533.6 553.7 L567.0 553.4 L600.0 553.4 L606.7 552.4 L613.3 553.4 L633.4 552.7 L636.7 554.0 L666.7 554.4 L669.4 556.0 L669.4 576.3" fill="none" stroke="#8a91a8" stroke-width="1"/>
<path d="M679.4 555.0 L700.1 554.4 L746.8 554.0 L750.2 553.4 L763.5 554.4 L768.5 552.0 L773.5 554.4 L790.2 554.4 L793.5 552.4 L798.6 552.4 L800.2 550.7 L816.9 551.7 L821.9 556.0 L826.9 556.0 L830.3 552.4 L843.6 553.4 L848.6 557.7 L853.6 557.7 L857.0 552.7 L873.6 552.4 L877.0 555.0 L882.0 555.0 L885.3 550.7 L889.0 552.4 L889.0 576.3 L679.4 576.3 Z" fill="url(#gsel)" stroke="none"/>
<path d="M679.4 576.3 L679.4 555.0 L700.1 554.4 L746.8 554.0 L750.2 553.4 L763.5 554.4 L768.5 552.0 L773.5 554.4 L790.2 554.4 L793.5 552.4 L798.6 552.4 L800.2 550.7 L816.9 551.7 L821.9 556.0 L826.9 556.0 L830.3 552.4 L843.6 553.4 L848.6 557.7 L853.6 557.7 L857.0 552.7 L873.6 552.4 L877.0 555.0 L882.0 555.0 L885.3 550.7 L889.0 552.4 L889.0 576.3" fill="none" stroke="#8a91a8" stroke-width="1"/>
<line x1="52.2" x2="52.2" y1="545.4" y2="576.3" stroke="#a9a9ad" stroke-width="1"/>
<path d="M52.2 545.4 L384.2 545.4 L384.2 576.3" fill="none" stroke="#5a5a5a" stroke-width="1"/>
<line x1="52.2" x2="384.2" y1="576.3" y2="576.3" stroke="#a9a9ad" stroke-width="1"/>
<line x1="384.2" x2="889.3" y1="576.3" y2="576.3" stroke="#3c3c3c" stroke-width="1.3"/>
<line x1="889.3" x2="889.3" y1="545.4" y2="576.3" stroke="#3c3c3c" stroke-width="1.1"/>
<rect x="380.8" y="555.3" width="6.8" height="11.4" rx="1.6" fill="#fff" stroke="#262626" stroke-width="1.1"/>
<line x1="383.1" x2="383.1" y1="557.5" y2="564.5" stroke="#444" stroke-width="0.8"/>
<line x1="385.3" x2="385.3" y1="557.5" y2="564.5" stroke="#444" stroke-width="0.8"/>
<rect x="885.9" y="555.3" width="6.8" height="11.4" rx="1.6" fill="#fff" stroke="#262626" stroke-width="1.1"/>
<line x1="888.2" x2="888.2" y1="557.5" y2="564.5" stroke="#444" stroke-width="0.8"/>
<line x1="890.4" x2="890.4" y1="557.5" y2="564.5" stroke="#444" stroke-width="0.8"/>
</svg>
</body></html>
